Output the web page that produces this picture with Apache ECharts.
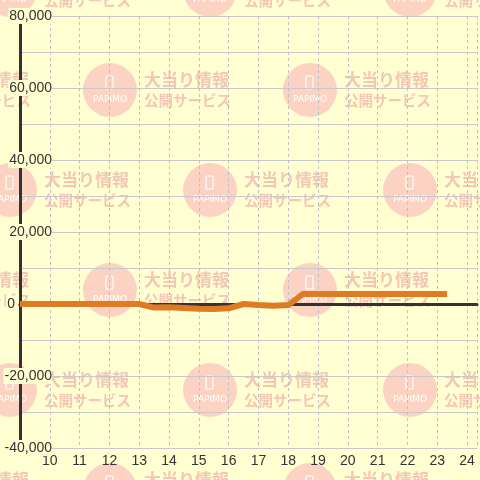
<!DOCTYPE html>
<html><head><meta charset="utf-8">
<script src="https://cdn.jsdelivr.net/npm/echarts@6/dist/echarts.min.js"></script>
<style>html,body{margin:0;padding:0;background:#ffffd2}#c{width:480px;height:480px}</style>
</head><body><div id="c"></div>
<script>
const hours = [9, 13, 13.5, 14, 14.5, 15, 15.5, 16, 16.5, 17, 17.5, 18, 18.5, 23.33];
const values = [0, 0, -1000, -900, -1100, -1300, -1400, -1200, 0, -300, -500, -300, 2800, 2800];
const xTickLabels = [10, 11, 12, 13, 14, 15, 16, 17, 18, 19, 20, 21, 22, 23, 24];
const yTickLabels = [-40000, -20000, 0, 20000, 40000, 60000, 80000];

const BG = '#ffffd2';
const chart = echarts.init(document.getElementById('c'));

// watermark pattern
const wm = [];
for (let r = 0; r < 6; r++) {
  const cy = -10 + 100 * r;
  const xs = r % 2 === 0 ? [10, 210, 410] : [-90, 110, 310];
  xs.forEach(cx => {
    wm.push({type: 'circle', shape: {cx: cx, cy: cy, r: 27}, style: {fill: '#fcd3c3'}, z: -10, silent: true});
    wm.push({type: 'rect', shape: {x: cx - 4, y: cy - 14, width: 7, height: 13, r: 1}, style: {fill: 'none', stroke: '#fff', lineWidth: 1.2}, z: -9, silent: true});
    wm.push({type: 'text', x: cx, y: cy + 10, style: {text: 'PAPIMO', fill: '#fff', font: '9px "DejaVu Sans"', align: 'center', verticalAlign: 'middle'}, z: -9, silent: true});
    wm.push({type: 'text', x: cx + 34, y: cy - 10, style: {text: '大当り情報', fill: '#f4c6b6', font: 'bold 17px "Noto Sans CJK JP"', align: 'left', verticalAlign: 'middle'}, z: -9, silent: true});
    wm.push({type: 'text', x: cx + 34, y: cy + 10, style: {text: '公開サービス', fill: '#f4c6b6', font: 'bold 14.5px "Noto Sans CJK JP"', align: 'left', verticalAlign: 'middle'}, z: -9, silent: true});
  });
}

const fmtNum = v => v.toLocaleString('en-US');

chart.setOption({
  backgroundColor: BG,
  animation: false,
  graphic: wm,
  grid: {left: 20, right: 0, top: 16, bottom: 32},
  xAxis: [{
    type: 'value', min: 9, max: 24.3333, interval: 1,
    axisLine: {show: false}, axisTick: {show: false},
    splitLine: {show: true, lineStyle: {color: '#c0c0c0', type: [3, 3], width: 1}},
    axisLabel: {
      color: '#333', fontSize: 14, fontFamily: 'Liberation Sans', margin: 6,
      formatter: v => xTickLabels.indexOf(Math.round(v * 1000) / 1000) >= 0 ? String(v) : ''
    }
  }, {
    type: 'value', min: 9, max: 24.3333, interval: 1, position: 'bottom', z: 1,
    axisLine: {show: true, onZero: true, onZeroAxisIndex: 0, lineStyle: {color: '#333', width: 3}},
    axisTick: {show: false}, axisLabel: {show: false}, splitLine: {show: false}
  }],
  yAxis: [{
    type: 'value', min: -40000, max: 80000, interval: 10000,
    axisLine: {show: false}, axisTick: {show: false}, axisLabel: {show: false},
    splitLine: {show: true, lineStyle: {color: '#c8c8cc', width: 1}}
  }, {
    type: 'value', min: -40000, max: 80000, interval: 10000, position: 'left', z: 1,
    axisLine: {show: true, onZero: false, lineStyle: {color: '#333', width: 3}},
    axisTick: {show: false}, splitLine: {show: false},
    axisLabel: {
      align: 'right', margin: -32, color: '#333', fontSize: 14, fontFamily: 'Liberation Sans',
      formatter: v => yTickLabels.indexOf(v) < 0 ? '' : (v === 0 ? '{z|0}{s| }' : '{n|' + fmtNum(v) + '}'),
      rich: {
        n: {backgroundColor: BG, color: '#333', fontSize: 14, fontFamily: 'Liberation Sans', padding: [1, 0, 1, 1]},
        z: {backgroundColor: BG, color: '#333', fontSize: 14, fontFamily: 'Liberation Sans', padding: [1, 1, 1, 1]},
        s: {width: 36, fontSize: 14}
      }
    }
  }],
  series: [{
    type: 'line', z: 3, showSymbol: false, silent: true,
    xAxisIndex: 0, yAxisIndex: 0,
    data: hours.map((h, i) => [h, values[i]]),
    lineStyle: {color: '#df7b22', width: 6}
  }]
});
</script></body></html>
